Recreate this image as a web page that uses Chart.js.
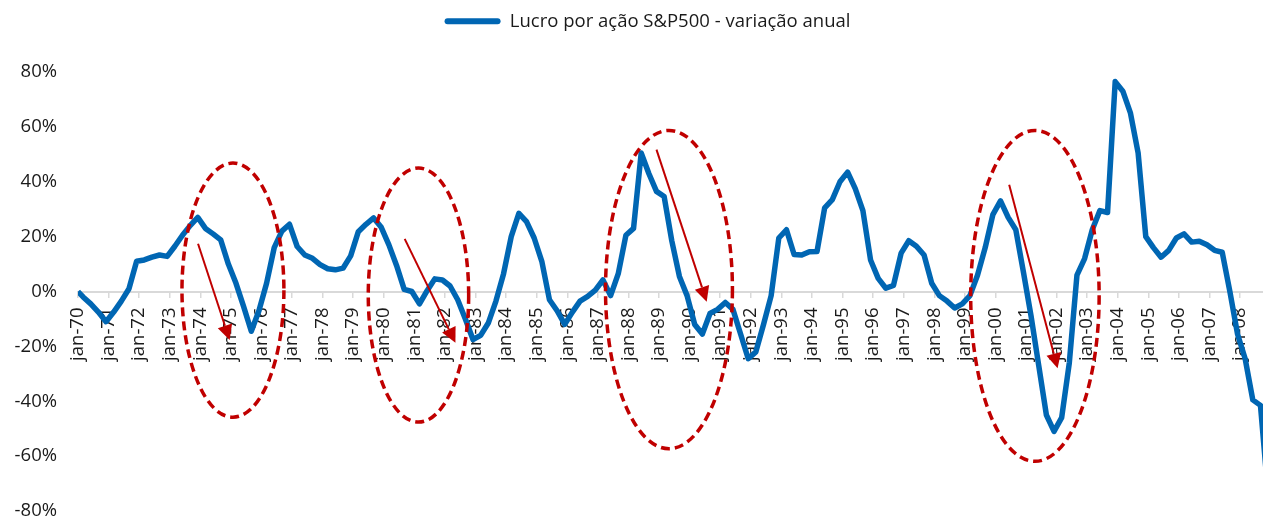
<!DOCTYPE html>
<html lang="pt">
<head>
<meta charset="utf-8">
<title>Lucro por ação S&amp;P500 - variação anual</title>
<script src="https://cdn.jsdelivr.net/npm/chart.js"></script>
<style>
  html, body { margin: 0; padding: 0; background: #fff; }
  #wrap { width: 1263px; height: 519px; }
</style>
</head>
<body>
<div id="wrap"><canvas id="chart" width="1263" height="519"></canvas></div>
<script>
const monthNames = ['jan', 'fev', 'mar', 'abr', 'mai', 'jun', 'jul', 'ago', 'set', 'out', 'nov', 'dez'];

// x axis tick labels, one per year
const yearTicks = [
  'jan-70', 'jan-71', 'jan-72', 'jan-73', 'jan-74', 'jan-75', 'jan-76', 'jan-77', 'jan-78', 'jan-79',
  'jan-80', 'jan-81', 'jan-82', 'jan-83', 'jan-84', 'jan-85', 'jan-86', 'jan-87', 'jan-88', 'jan-89',
  'jan-90', 'jan-91', 'jan-92', 'jan-93', 'jan-94', 'jan-95', 'jan-96', 'jan-97', 'jan-98', 'jan-99',
  'jan-00', 'jan-01', 'jan-02', 'jan-03', 'jan-04', 'jan-05', 'jan-06', 'jan-07', 'jan-08'
];

// observation dates: series start, then quarter ends of every year
const periods = ['jan-70'];
yearTicks.forEach(t => {
  const yy = t.split('-')[1];
  ['mar', 'jun', 'set', 'dez'].forEach(m => periods.push(m + '-' + yy));
});

// EPS year-over-year change (%)
const epsChange = [
  0,
  -2, -4.5, -7.5, -11,       // 70
  -7.5, -3.5, 1, 11,         // 71
  11.5, 12.5, 13.3, 12.8,    // 72
  16.5, 20.5, 24, 27,        // 73
  23, 21, 18.8, 10,          // 74
  3, -5.5, -14.5, -7,        // 75
  3, 16, 22, 24.5,           // 76
  16.4, 13.3, 12.1, 9.8,     // 77
  8.3, 7.9, 8.5, 13,         // 78
  21.8, 24.5, 26.8, 23.4,    // 79
  17, 9.5, 0.8, 0,           // 80
  -4.5, 0.3, 4.6, 4.2,       // 81
  2, -3, -10, -17.5,         // 82
  -16, -11.5, -3.5, 6.5,     // 83
  20, 28.5, 25.5, 19.5,      // 84
  11, -3, -7, -12,           // 85
  -7.5, -3.5, -1.8, 0.5,     // 86
  4.2, -1.5, 6.5, 20.5,      // 87
  23, 50.5, 43, 36.5,        // 88
  34.6, 18.5, 5.5, -1.5,     // 89
  -12, -15.5, -8, -6.5,      // 90
  -4, -6.5, -15.5, -24.5,    // 91
  -22, -12, -1.5, 19.5,      // 92
  22.5, 13.5, 13.3, 14.5,    // 93
  14.6, 30.5, 33.5, 40,      // 94
  43.5, 37.5, 29.5, 11.5,    // 95
  4.8, 1.2, 2.2, 14,         // 96
  18.5, 16.5, 13.3, 3,       // 97
  -1.5, -3.5, -6, -4.5,      // 98
  -1.5, 6, 16, 28,           // 99
  33, 27, 22.5, 7,           // 00
  -9, -27, -45, -51,         // 01
  -46, -26, 6, 12,           // 02
  22.5, 29.5, 28.8, 76.5,    // 03
  73, 65, 50.5, 20,          // 04
  16, 12.5, 15, 19.5,        // 05
  21, 18, 18.3, 17,          // 06
  15, 14.3, 0, -15.5,        // 07
  -24.5, -39.5, -41.5, -74   // 08
];

const yTicks = [-80, -60, -40, -20, 0, 20, 40, 60, 80];

// red annotations, in data units (month index, percent)
const cycleEllipses = [
  { month: 60.8, pct: 0.5, halfMonths: 20, halfPct: 46.3 },
  { month: 133.6, pct: -1.3, halfMonths: 19.7, halfPct: 46.3 },
  { month: 231.9, pct: 0.7, halfMonths: 24.9, halfPct: 58 },
  { month: 375.5, pct: -1.6, halfMonths: 25.2, halfPct: 60.3 }
];
const cycleArrows = [
  { from: [47.1, 17.4], to: [59.5, -17.7] },
  { from: [128.2, 19.2], to: [148.1, -18.7] },
  { from: [227, 51.7], to: [246.7, -3.7] },
  { from: [365.4, 38.9], to: [384.4, -28] }
];

function monthIndex(label) {
  const [mon, yy] = label.split('-');
  const year = Number(yy) < 50 ? 2000 + Number(yy) : 1900 + Number(yy);
  return (year - 1970) * 12 + monthNames.indexOf(mon);
}

const points = periods.map((p, i) => ({ x: monthIndex(p), y: epsChange[i] }));
const BLUE = '#0066b3';
const RED = '#c00000';

const annotations = {
  id: 'cycles',
  afterDatasetsDraw(chart) {
    const { ctx, scales: { x, y } } = chart;
    ctx.save();
    ctx.strokeStyle = RED;
    ctx.lineWidth = 3.5;
    ctx.setLineDash([9, 5]);
    cycleEllipses.forEach(e => {
      const cx = x.getPixelForValue(e.month);
      const cy = y.getPixelForValue(e.pct);
      const rx = x.getPixelForValue(e.month + e.halfMonths) - cx;
      const ry = cy - y.getPixelForValue(e.pct + e.halfPct);
      ctx.beginPath();
      ctx.ellipse(cx, cy, rx, ry, 0, 0, Math.PI * 2);
      ctx.stroke();
    });
    ctx.setLineDash([]);
    ctx.fillStyle = RED;
    ctx.lineWidth = 2;
    cycleArrows.forEach(a => {
      const x1 = x.getPixelForValue(a.from[0]), y1 = y.getPixelForValue(a.from[1]);
      const x2 = x.getPixelForValue(a.to[0]), y2 = y.getPixelForValue(a.to[1]);
      const ang = Math.atan2(y2 - y1, x2 - x1);
      const head = 15, half = 7.5;
      const bx = x2 - head * Math.cos(ang), by = y2 - head * Math.sin(ang);
      ctx.beginPath();
      ctx.moveTo(x1, y1);
      ctx.lineTo(bx, by);
      ctx.stroke();
      ctx.beginPath();
      ctx.moveTo(x2, y2);
      ctx.lineTo(bx + half * Math.sin(ang), by - half * Math.cos(ang));
      ctx.lineTo(bx - half * Math.sin(ang), by + half * Math.cos(ang));
      ctx.closePath();
      ctx.fill();
    });
    ctx.restore();
  }
};

// fixed legend band height and a small shift to the right
const legendLayout = {
  id: 'legendLayout',
  beforeLayout(chart) {
    const legend = chart.legend;
    if (legend && !legend._fixed) {
      const fit = legend.fit;
      legend.fit = function () { fit.call(this); this.height = 72; };
      legend._fixed = true;
    }
  },
  afterLayout(chart) {
    chart.legend.left += 16;
    chart.legend.right += 16;
  }
};

Chart.defaults.font.family = '"Open Sans", sans-serif';
Chart.defaults.font.size = 18.5;
Chart.defaults.color = '#1a1a1a';

new Chart(document.getElementById('chart'), {
  type: 'line',
  data: {
    datasets: [{
      label: 'Lucro por ação S&P500 - variação anual',
      data: points,
      borderColor: BLUE,
      backgroundColor: BLUE,
      borderWidth: 5.5,
      borderJoinStyle: 'round',
      pointRadius: 0,
      tension: 0,
      clip: 0
    }]
  },
  options: {
    responsive: false,
    animation: false,
    devicePixelRatio: 1,
    layout: { padding: { left: 0, right: 0, top: 0, bottom: 8 } },
    plugins: {
      tooltip: { enabled: false },
      legend: {
        position: 'top',
        labels: {
          boxWidth: 56,
          boxHeight: 6,
          padding: 12,
          generateLabels(chart) {
            return Chart.defaults.plugins.legend.labels.generateLabels(chart).map(item =>
              Object.assign(item, { lineWidth: 0, fillStyle: BLUE, borderRadius: 3 }));
          }
        }
      }
    },
    scales: {
      x: {
        type: 'linear',
        position: { y: 0 },
        min: 0,
        max: 465,
        grid: { drawOnChartArea: false, drawTicks: true, tickLength: 5, color: '#d9d9d9', lineWidth: 1.5 },
        border: { display: true, color: '#d9d9d9', width: 2 },
        ticks: {
          stepSize: 12,
          includeBounds: false,
          autoSkip: false,
          maxTicksLimit: 100,
          minRotation: 90,
          maxRotation: 90,
          padding: 11,
          callback: v => yearTicks[v / 12]
        },
        afterFit(scale) { scale.paddingLeft = 0; scale.paddingRight = 0; }
      },
      y: {
        min: -80,
        max: 80,
        grid: { display: false, drawTicks: false },
        border: { display: false },
        afterBuildTicks(scale) { scale.ticks = yTicks.map(v => ({ value: v })); },
        ticks: { padding: 21, callback: v => v + '%' },
        afterFit(scale) { scale.width = 78; scale.paddingTop = 0; scale.paddingBottom = 0; }
      }
    }
  },
  plugins: [annotations, legendLayout]
});
</script>
</body>
</html>
